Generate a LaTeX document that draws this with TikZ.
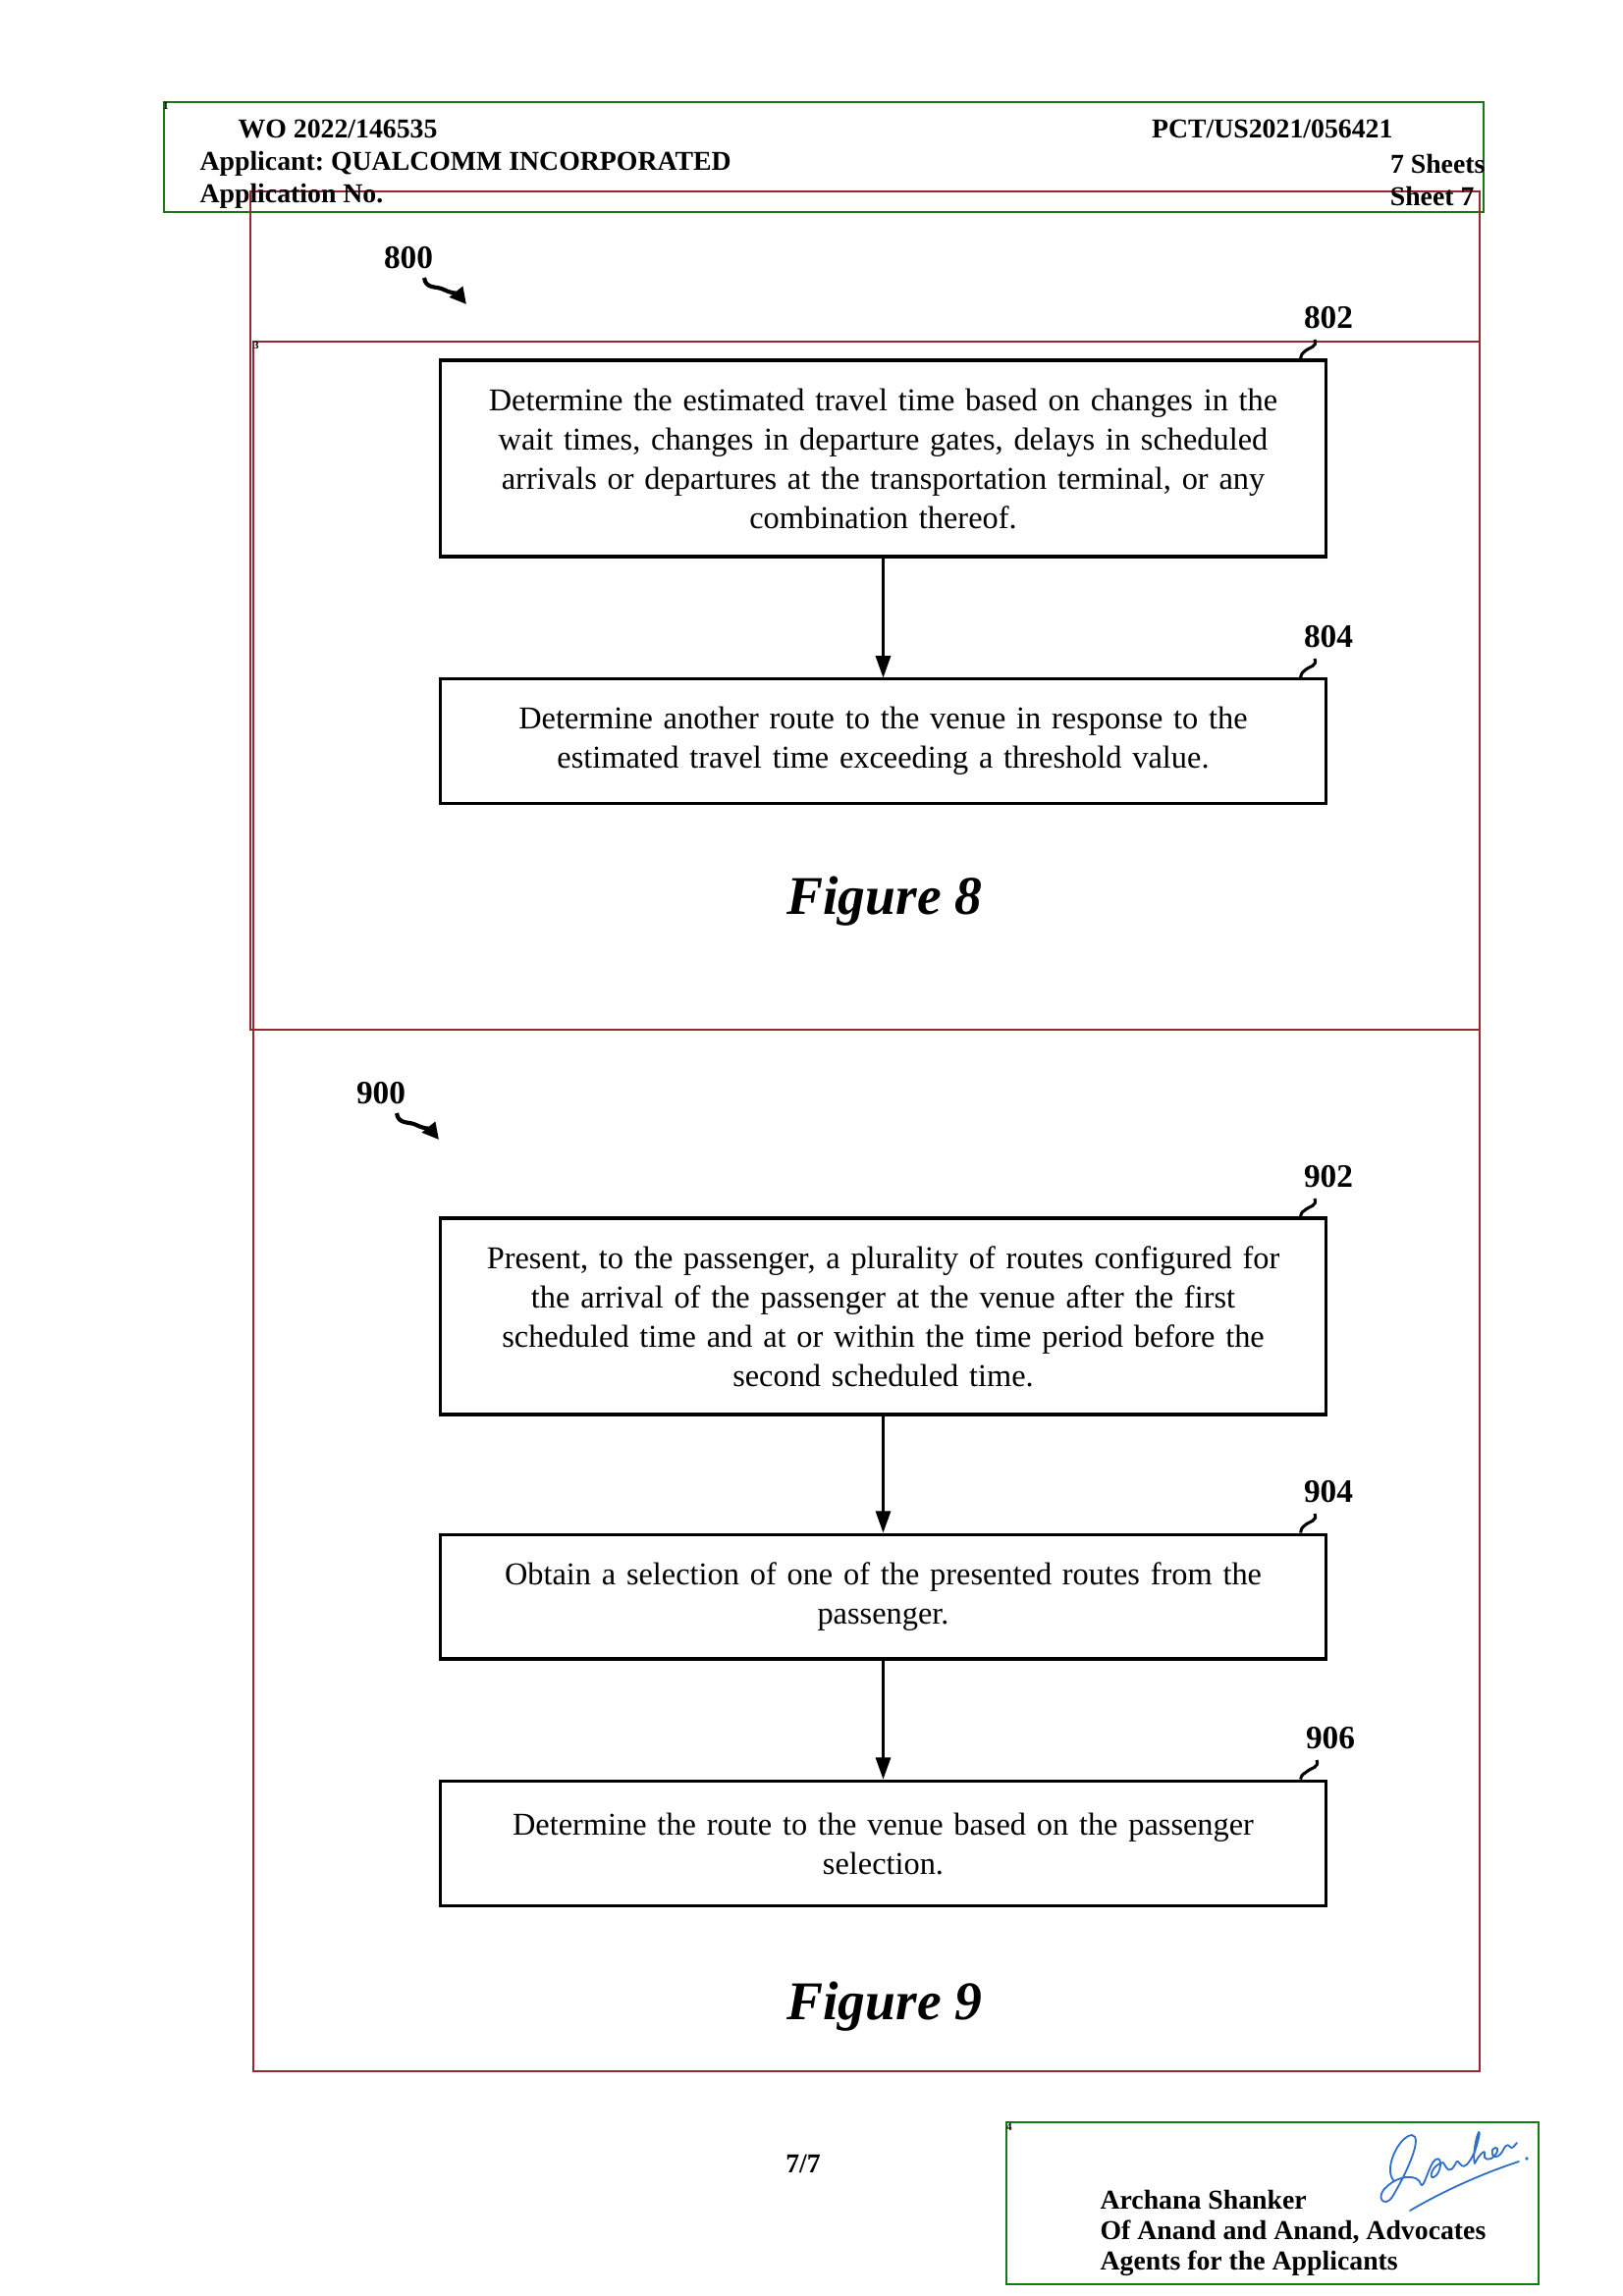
\documentclass[tikz,border=0pt]{standalone}
\usepackage{fontspec}
\setmainfont{Liberation Serif}
\usetikzlibrary{arrows.meta,calc}
\frenchspacing

\definecolor{framered}{RGB}{150,40,50}
\definecolor{framegreen}{RGB}{20,120,20}
\definecolor{inkblue}{RGB}{45,110,205}

\tikzset{
  stepbox/.style={draw, line width=1.1pt, inner sep=0pt, align=center,
    minimum width=324.4pt, text width=310pt,
    font=\fontsize{11.65}{14.4}\selectfont},
  reflabel/.style={inner sep=0pt, font=\fontsize{12}{14}\selectfont\bfseries},
  figlabel/.style={inner sep=0pt, font=\fontsize{20}{24}\selectfont\bfseries\itshape},
  headtext/.style={inner sep=0pt, font=\fontsize{10}{12}\selectfont\bfseries},
  tinymark/.style={inner sep=0pt, font=\fontsize{4}{4}\selectfont\bfseries},
  flow/.style={line width=0.8pt, -{Triangle[length=8pt,width=5.5pt]}},
  leadline/.style={line width=1.1pt},
  wavyarrow/.style={line width=1.5pt, -{Triangle[length=6pt,width=6pt]}},
  redframe/.style={draw=framered, line width=0.55pt},
  greenframe/.style={draw=framegreen, line width=0.75pt},
  signature/.style={draw=inkblue, line width=0.65pt, line cap=round, line join=round}
}

\begin{document}
\begin{tikzpicture}[x=0.36pt, y=-0.36pt]
\useasboundingbox (0,0) rectangle (1653,2339);

% page frames
\draw[greenframe] (167,104) rectangle (1511,216);
\draw[redframe] (255,195) rectangle (1507,1049);
\draw[redframe] (258,348) rectangle (1507,1049);
\draw[redframe] (258,1049) rectangle (1507,2110);
\draw[greenframe] (1025,2162) rectangle (1567,2327);

% small sheet marks
\node[tinymark] (m1) at (169,108) {1};
\node[tinymark] (m3) at (261,352) {3};
\node[tinymark] (m4) at (1028,2167) {4};

% header
\node[headtext, anchor=west] (wo) at (242,131) {WO 2022/146535};
\node[headtext, anchor=east] (pct) at (1419,131) {PCT/US2021/056421};
\node[headtext, anchor=west] (appl) at (203,167) {Applicant: QUALCOMM INCORPORATED};
\node[headtext, anchor=east] (sheets) at (1513,167) {7 Sheets};
\node[headtext, anchor=west] (appno) at (203,200) {Application No.};
\node[headtext, anchor=east] (sheet) at (1502,200) {Sheet 7};

% ---------------- Figure 8 ----------------
\node[reflabel] (l800) at (416,263) {800};
\draw[wavyarrow] ($(l800)+(16,20)$) .. controls ($(l800)+(18,32)$) and ($(l800)+(28,28)$) .. ($(l800)+(36,32)$)
  .. controls ($(l800)+(44,36)$) and ($(l800)+(50,36)$) .. ($(l800)+(59,47)$);

\node[stepbox, minimum height=72pt] (b802) at (899.5,467)
  {Determine the estimated travel time based on changes in the\\
   wait times, changes in departure gates, delays in scheduled\\
   arrivals or departures at the transportation terminal, or any\\
   combination thereof.};
\node[stepbox, minimum height=45.4pt] (b804) at (899.5,755)
  {Determine another route to the venue in response to the\\
   estimated travel time exceeding a threshold value.};

\node[reflabel] (l802) at (1353,324) {802};
\node[reflabel] (l804) at (1353,649) {804};
\coordinate (t802) at ($(b802.north east)+(-27,0)$);
\coordinate (t804) at ($(b804.north east)+(-27,0)$);

\draw[leadline] ($(l802)+(-14,22)$) .. controls ($(l802)+(-11,30)$) and ($(l802)+(-20,30)$) .. ($(l802)+(-23,33)$)
  .. controls ($(l802)+(-26,36)$) and ($(t802)+(1,-6)$) .. (t802);
\draw[leadline] ($(l804)+(-14,22)$) .. controls ($(l804)+(-11,30)$) and ($(l804)+(-20,30)$) .. ($(l804)+(-23,33)$)
  .. controls ($(l804)+(-26,36)$) and ($(t804)+(1,-6)$) .. (t804);

\draw[flow] (b802) -- (b804);

\node[figlabel] (fig8) at (901,918) {Figure 8};

% ---------------- Figure 9 ----------------
\node[reflabel] (l900) at (388,1114) {900};
\draw[wavyarrow] ($(l900)+(16,20)$) .. controls ($(l900)+(18,32)$) and ($(l900)+(28,28)$) .. ($(l900)+(36,32)$)
  .. controls ($(l900)+(44,36)$) and ($(l900)+(50,36)$) .. ($(l900)+(59,47)$);

\node[stepbox, minimum height=72pt] (b902) at (899.5,1341)
  {Present, to the passenger, a plurality of routes configured for\\
   the arrival of the passenger at the venue after the first\\
   scheduled time and at or within the time period before the\\
   second scheduled time.};
\node[stepbox, minimum height=45.7pt] (b904) at (899.5,1626.5)
  {Obtain a selection of one of the presented routes from the\\
   passenger.};
\node[stepbox, minimum height=46pt] (b906) at (899.5,1878)
  {Determine the route to the venue based on the passenger\\
   selection.};

\node[reflabel] (l902) at (1353,1199) {902};
\node[reflabel] (l904) at (1353,1520) {904};
\node[reflabel] (l906) at (1355,1771) {906};
\coordinate (t902) at ($(b902.north east)+(-27,0)$);
\coordinate (t904) at ($(b904.north east)+(-27,0)$);
\coordinate (t906) at ($(b906.north east)+(-27,0)$);

\foreach \l/\t in {l902/t902, l904/t904, l906/t906}{
  \draw[leadline] ($(\l)+(-14,22)$) .. controls ($(\l)+(-11,30)$) and ($(\l)+(-20,30)$) .. ($(\l)+(-23,33)$)
    .. controls ($(\l)+(-26,36)$) and ($(\t)+(1,-6)$) .. (\t);
}

\draw[flow] (b902) -- (b904);
\draw[flow] (b904) -- (b906);

\node[figlabel] (fig9) at (901,2044) {Figure 9};

% ---------------- footer ----------------
\node[headtext] (pagenum) at (818,2204) {7/7};
\node[headtext, anchor=west] (agent1) at (1120,2241) {Archana Shanker};
\node[headtext, anchor=west] (agent2) at (1120,2274) {Of Anand and Anand, Advocates};
\node[headtext, anchor=west] (agent3) at (1120,2306) {Agents for the Applicants};

% handwritten signature
\draw[signature]
  (1420,2222) .. controls (1408,2210) and (1425,2176) .. (1438,2175)
  .. controls (1450,2176) and (1432,2215) .. (1418,2238)
  .. controls (1410,2250) and (1400,2238) .. (1412,2228)
  .. controls (1425,2215) and (1445,2215) .. (1447,2225)
  .. controls (1450,2232) and (1455,2205) .. (1462,2200)
  .. controls (1470,2195) and (1468,2215) .. (1460,2218)
  .. controls (1455,2220) and (1458,2205) .. (1470,2203)
  .. controls (1474,2210) and (1476,2215) .. (1482,2205)
  .. controls (1486,2195) and (1486,2212) .. (1494,2205)
  .. controls (1500,2198) and (1500,2195) .. (1502,2192)
  .. controls (1506,2180) and (1508,2170) .. (1506,2172)
  .. controls (1502,2180) and (1500,2200) .. (1502,2204)
  .. controls (1506,2195) and (1514,2188) .. (1512,2195)
  .. controls (1510,2200) and (1518,2202) .. (1522,2196)
  .. controls (1528,2190) and (1525,2185) .. (1520,2190)
  .. controls (1518,2198) and (1525,2200) .. (1530,2192)
  .. controls (1533,2186) and (1535,2183) .. (1538,2187)
  .. controls (1540,2190) and (1542,2186) .. (1545,2183);
\draw[signature] (1436,2252) .. controls (1470,2232) and (1510,2214) .. (1547,2202);
\fill[inkblue] (1555,2199) circle (1.8);
\end{tikzpicture}
\end{document}
